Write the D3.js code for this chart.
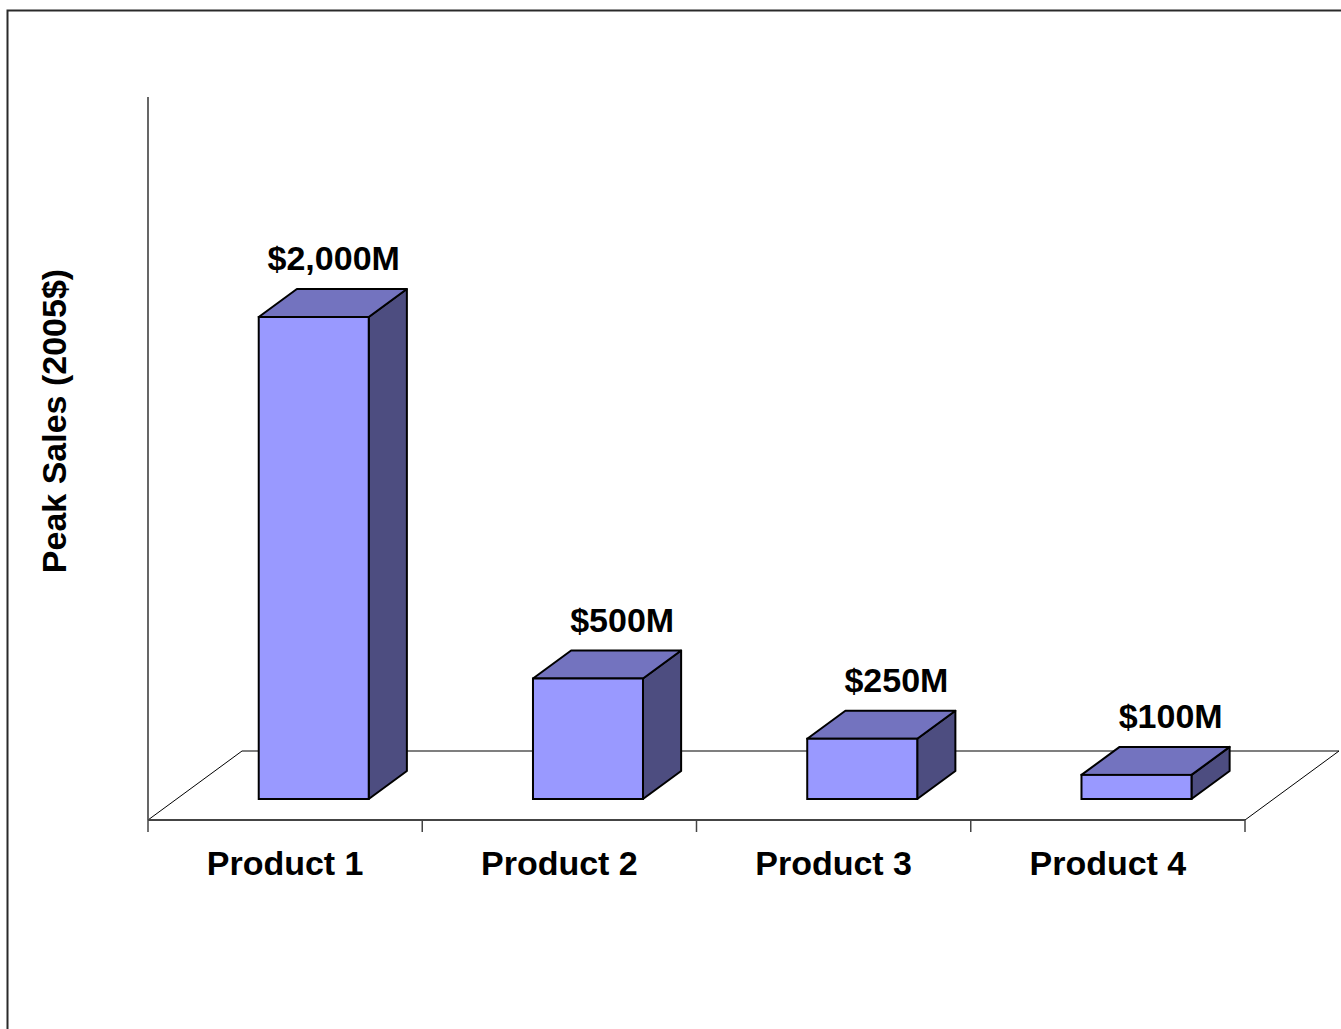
<!DOCTYPE html>
<html>
<head>
<meta charset="utf-8">
<script src="https://cdn.jsdelivr.net/npm/d3@7/dist/d3.min.js"></script>
<style>
  html, body { margin: 0; padding: 0; background: #fff; }
  svg { display: block; }
  text { font-family: "Liberation Sans", Arial, sans-serif; font-weight: bold; fill: #000; }
</style>
</head>
<body>
<svg id="chart" width="1341" height="1029"></svg>
<script>
// ---- data ----
const categories = ["Product 1", "Product 2", "Product 3", "Product 4"];
const peakSales = [2000, 500, 250, 100];
const valueLabels = ["$2,000M", "$500M", "$250M", "$100M"];
const yAxisTitle = "Peak Sales (2005$)";
const yDomainMax = 3000;

// ---- layout ----
const svg = d3.select("#chart");

// frame
svg.append("rect")
  .attr("x", 7.5).attr("y", 10.5)
  .attr("width", 1400).attr("height", 1100)
  .attr("fill", "none").attr("stroke", "#2a2a2a").attr("stroke-width", 2);

const floorY = 820;
const axisLeft = 148, axisRight = 1245;
const depthDX = 94, depthDY = -69;
const zFront = 21 / 69, zBack = 49 / 69;

const x = d3.scaleBand().domain(categories).range([axisLeft, axisRight]).paddingInner(0).paddingOuter(0);
const y = d3.scaleLinear().domain([0, yDomainMax]).range([floorY, 97]);

const barW = 110;
const fdx = depthDX * zFront, fdy = depthDY * zFront;
const bdx = depthDX * zBack,  bdy = depthDY * zBack;
const ddx = bdx - fdx, ddy = bdy - fdy;

// floor
const floor = svg.append("g");
floor.append("line")
  .attr("x1", axisLeft + depthDX).attr("y1", floorY + depthDY)
  .attr("x2", axisRight + depthDX).attr("y2", floorY + depthDY)
  .attr("stroke", "#000").attr("stroke-width", 1.2);
floor.append("line")
  .attr("x1", axisLeft).attr("y1", floorY)
  .attr("x2", axisLeft + depthDX).attr("y2", floorY + depthDY)
  .attr("stroke", "#000").attr("stroke-width", 1);
floor.append("line")
  .attr("x1", axisRight).attr("y1", floorY)
  .attr("x2", axisRight + depthDX).attr("y2", floorY + depthDY)
  .attr("stroke", "#000").attr("stroke-width", 1);

// value axis line
svg.append("line")
  .attr("x1", axisLeft).attr("y1", y(yDomainMax))
  .attr("x2", axisLeft).attr("y2", floorY)
  .attr("stroke", "#000").attr("stroke-width", 1.2);

// category axis
const tickVals = categories.map((c) => x(c)).concat([axisRight]);
const xAxisG = svg.append("g").attr("transform", `translate(0,${floorY})`);
xAxisG.append("line")
  .attr("x1", axisLeft).attr("x2", axisRight).attr("y1", 0).attr("y2", 0)
  .attr("stroke", "#444").attr("stroke-width", 2);
xAxisG.selectAll("line.tick").data(tickVals).join("line")
  .attr("class", "tick")
  .attr("x1", d => d).attr("x2", d => d).attr("y1", 0).attr("y2", 12)
  .attr("stroke", "#444").attr("stroke-width", 1.5);
xAxisG.selectAll("text.cat").data(categories).join("text")
  .attr("class", "cat")
  .attr("x", d => x(d) + x.bandwidth() / 2)
  .attr("y", 55)
  .attr("text-anchor", "middle")
  .attr("font-size", 34)
  .text(d => d);

// bars
const bars = svg.append("g").selectAll("g.bar").data(categories.map((c, i) => ({ c, v: peakSales[i], label: valueLabels[i] })))
  .join("g").attr("class", "bar");

bars.each(function (d) {
  const g = d3.select(this);
  const cx = x(d.c) + x.bandwidth() / 2;
  const x0 = cx - barW / 2 + fdx, x1 = cx + barW / 2 + fdx;
  const yTop = y(d.v) + fdy, yBot = y(0) + fdy;
  const stroke = "#000", sw = 2;
  g.append("path")
    .attr("d", `M${x1},${yTop} L${x1 + ddx},${yTop + ddy} L${x1 + ddx},${yBot + ddy} L${x1},${yBot} Z`)
    .attr("fill", "#4d4d80").attr("stroke", stroke).attr("stroke-width", sw).attr("stroke-linejoin", "round");
  g.append("path")
    .attr("d", `M${x0},${yTop} L${x0 + ddx},${yTop + ddy} L${x1 + ddx},${yTop + ddy} L${x1},${yTop} Z`)
    .attr("fill", "#7373bf").attr("stroke", stroke).attr("stroke-width", sw).attr("stroke-linejoin", "round");
  g.append("rect")
    .attr("x", x0).attr("y", yTop).attr("width", x1 - x0).attr("height", yBot - yTop)
    .attr("fill", "#9999ff").attr("stroke", stroke).attr("stroke-width", sw);
  g.append("text")
    .attr("x", x1 + ddx - 7)
    .attr("y", yTop + ddy - 19)
    .attr("text-anchor", "end")
    .attr("font-size", 34)
    .text(d.label);
});

// y axis title
svg.append("text")
  .attr("transform", `translate(66,421) rotate(-90)`)
  .attr("text-anchor", "middle")
  .attr("font-size", 34)
  .text(yAxisTitle);
</script>
</body>
</html>
